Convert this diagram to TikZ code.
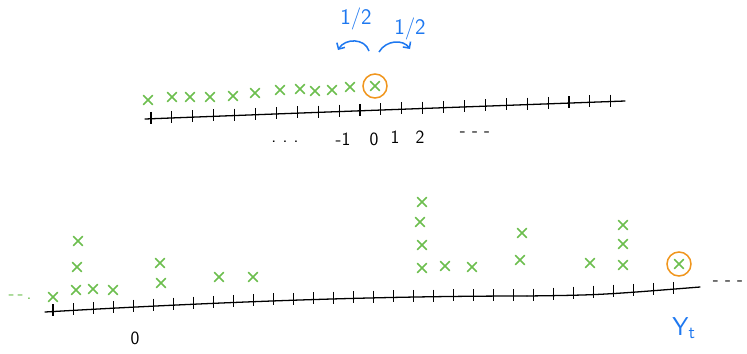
\documentclass[tikz,border=0pt]{standalone}
\usetikzlibrary{arrows.meta}
\definecolor{markgreen}{RGB}{108,190,78}
\definecolor{ringorange}{RGB}{240,150,30}
\definecolor{noteblue}{RGB}{30,120,240}
\tikzset{
  axisline/.style={black, line width=1.1pt, line cap=round},
  tickline/.style={black, line width=0.9pt},
  crossmark/.pic={\draw[markgreen, line width=1.3pt, line cap=round] (-4.5,-4.5) -- (4.5,4.5) (-4.5,4.5) -- (4.5,-4.5);},
  ring/.style={ringorange, line width=1.3pt},
  numlabel/.style={font=\sffamily\fontsize{16}{18}\selectfont},
  notelabel/.style={noteblue, font=\sffamily\fontsize{19}{21}\selectfont},
  jumparrow/.style={noteblue, line width=1.3pt, -{Straight Barb[length=4pt]}},
}
\begin{document}
\begin{tikzpicture}[x=0.03cm, y=-0.03cm]
\useasboundingbox (0,0) rectangle (747,353);
% top walk
\draw[axisline] (145,119) .. controls (300,113) .. (625,101);
\foreach \k in {0,...,22} {
  \pgfmathsetmacro{\tx}{151+20.9*\k}
  \pgfmathsetmacro{\ty}{119-0.0375*(\tx-145)}
  \draw[tickline] (\tx,\ty-7) -- (\tx,\ty+5);
}
\foreach \cx/\cy in {148/100,172/97,190/97,210/97,233/96,255/93,280/90,300/89,315/91,332/90,350/87}
  \pic at (\cx,\cy) {crossmark};
\pic at (375,86) {crossmark};
\draw[ring] (375,86) circle (12);
\node[notelabel] (halfL) at (356,19) {1/2};
\node[notelabel] (halfR) at (410,29) {1/2};
\draw[jumparrow] (369,51) .. controls (365,38) and (345,38) .. (338,50);
\draw[jumparrow] (379,52) .. controls (386,40) and (403,39) .. (410,49);
\node[numlabel] (dotsL) at (285,142) {.\,\,.\,\,.};
\node[numlabel] (minusone) at (343,139) {-1};
\node[numlabel] (zeroT) at (374,139) {0};
\node[numlabel] (oneT) at (395,137) {1};
\node[numlabel] (twoT) at (420,137) {2};
\node[numlabel] (dotsR) at (475,134) {-\,\,-\,\,-};
% bottom walk
\draw[axisline] (45,312) .. controls (250,300) and (400,296) .. (527,296);
\draw[axisline] (527,296) .. controls (600,295) .. (700,287);
\foreach \k in {0,...,31} {
  \pgfmathsetmacro{\tx}{53+20.03*\k}
  \pgfmathsetmacro{\tt}{(\tx-45)/482}
  \pgfmathsetmacro{\ty}{(\tx<527) ? (312-16*(2*\tt-\tt*\tt)) : (296-8*(\tx-527)/163)}
  \draw[tickline] (\tx,\ty-7) -- (\tx,\ty+5);
}
\foreach \cx/\cy in {53/297,76/290,93/289,113/290,77/267,78/241,161/283,160/263,219/277,253/277,
  422/268,445/266,472/267,422/245,420/222,422/202,522/233,520/260,590/263,623/265,623/244,623/225}
  \pic at (\cx,\cy) {crossmark};
\pic at (679,264) {crossmark};
\draw[ring] (679,264) circle (12);
\node[font=\sffamily\fontsize{16}{18}\selectfont, markgreen] (dotsG) at (20,297) {-\,-\,.};
\node[numlabel] (dotsB) at (728,283) {-\,\,-\,\,-};
\node[numlabel] (zeroB) at (135,338) {0};
\node[noteblue, font=\sffamily\fontsize{22}{24}\selectfont] (ytime) at (684,328) {Y\textsubscript{t}};
\end{tikzpicture}
\end{document}
